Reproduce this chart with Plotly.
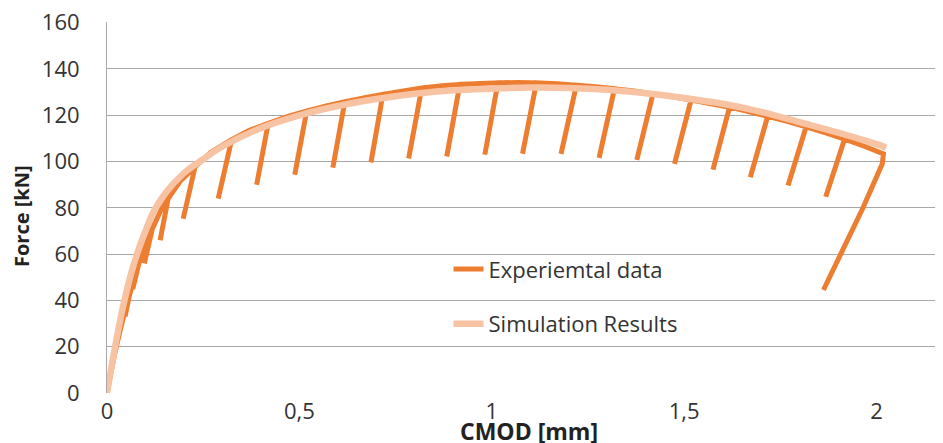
import plotly.graph_objects as go

# Experimental data (envelope with unloading/reloading cycles)
exp_cmod = [0.0, 0.02, 0.04, 0.058, 0.047, 0.058, 0.075, 0.083, 0.067, 0.083,
            0.10, 0.118, 0.097, 0.118, 0.14, 0.159, 0.138, 0.159, 0.19, 0.229,
            0.198, 0.229, 0.27, 0.324, 0.289, 0.324, 0.37, 0.419, 0.389, 0.419,
            0.47, 0.519, 0.488, 0.519, 0.57, 0.618, 0.587, 0.618, 0.67, 0.717,
            0.686, 0.717, 0.77, 0.818, 0.784, 0.818, 0.87, 0.917, 0.883, 0.917,
            0.97, 1.016, 0.982, 1.016, 1.07, 1.116, 1.08, 1.116, 1.17, 1.22,
            1.18, 1.22, 1.27, 1.319, 1.279, 1.319, 1.37, 1.419, 1.377, 1.419,
            1.47, 1.518, 1.475, 1.518, 1.57, 1.618, 1.575, 1.618, 1.67, 1.717,
            1.672, 1.717, 1.77, 1.817, 1.77, 1.817, 1.87, 1.917, 1.868, 1.917,
            1.97, 2.018, 2.015, 1.964, 1.862]
exp_force = [0.0, 17, 31, 42, 33, 42, 52, 56, 45, 56,
             64, 71, 56, 71, 79, 84, 66, 84, 91.5, 97.8,
             75.3, 97.8, 104, 109.5, 84, 109.5, 113.5, 116.5, 90, 116.5,
             119.5, 121.8, 94.3, 121.8, 124, 125.8, 97.4, 125.8, 127.6, 129,
             99.6, 129, 130.5, 131.8, 101.3, 131.8, 132.8, 133.3, 102.2, 133.3,
             133.7, 134, 103, 134, 134.2, 134, 103.4, 134, 133.6, 133,
             103.3, 133, 132.3, 131.5, 101.6, 131.5, 130.5, 129.3, 100.7, 129.3,
             128, 126.6, 99, 126.6, 125, 123.5, 96.5, 123.5, 121.5, 119.5,
             93.2, 119.5, 117.3, 115, 89.7, 115, 112.3, 109.7, 84.8, 109.7,
             106.5, 103.3, 99, 79.7, 44.5]

# Simulation results
sim_cmod = [0.0, 0.02, 0.04, 0.06, 0.08, 0.10, 0.12, 0.15, 0.20, 0.25, 0.30,
            0.40, 0.50, 0.60, 0.70, 0.80, 0.90, 1.00, 1.10, 1.20, 1.30, 1.40,
            1.50, 1.60, 1.70, 1.80, 1.90, 2.00, 2.025]
sim_force = [0.0, 19, 36, 50, 61, 70, 78, 86, 95, 101, 106.5,
             114.5, 120, 124, 127, 129.3, 130.8, 131.5, 132, 131.8, 131, 129.5,
             127.5, 125, 121.5, 117, 112.5, 107.5, 106]

x_ticks = [0, 0.5, 1, 1.5, 2]
x_tick_labels = ["0", "0,5", "1", "1,5", "2"]
y_ticks = [0, 20, 40, 60, 80, 100, 120, 140, 160]

font_family = "Open Sans, Lato, sans-serif"

fig = go.Figure()
fig.add_trace(go.Scatter(
    x=exp_cmod, y=exp_force, mode="lines", name="Experiemtal data",
    line=dict(color="#ED7D31", width=5), legendgroup="a",
))
fig.add_trace(go.Scatter(
    x=sim_cmod, y=sim_force, mode="lines", name="Simulation Results",
    line=dict(color="#F8C3A3", width=6.5, shape="spline"), legendgroup="b",
))

# the page body adds an 8px offset, so margins are reduced to compensate
fig.update_layout(
    width=943, height=443,
    margin=dict(l=99, r=11, t=14, b=58),
    paper_bgcolor="white", plot_bgcolor="white",
    font=dict(family=font_family, size=22, color="#333333"),
    showlegend=True,
    legend=dict(
        x=0.41, y=0.39, xanchor="left", yanchor="top",
        bgcolor="rgba(0,0,0,0)", font=dict(size=22, color="#333333"),
        tracegroupgap=23,
    ),
    xaxis=dict(
        range=[0, 2.165], tickvals=x_ticks, ticktext=x_tick_labels,
        showgrid=False, zeroline=False, showline=False,
        ticks="", ticklabelstandoff=3, automargin=False,
        ticklabeloverflow="allow",
    ),
    yaxis=dict(
        range=[0, 160.3], tickvals=y_ticks,
        showgrid=True, gridcolor="#A8A8A8", gridwidth=1,
        zeroline=False, showline=True, linecolor="#A8A8A8", linewidth=1,
        ticks="", ticklabelstandoff=22, automargin=False,
        ticklabeloverflow="allow",
    ),
    annotations=[
        dict(
            text="<b>CMOD [mm]</b>", xref="paper", yref="paper",
            x=(528.5 - 107) / 833, y=0, yshift=-38, xanchor="center", yanchor="middle",
            showarrow=False, font=dict(size=23, color="#222222"),
        ),
        dict(
            text="<b>Force [kN]</b>", xref="paper", yref="paper",
            x=0, xshift=-86, y=(393 - 216) / 371, xanchor="center", yanchor="middle",
            textangle=-90, showarrow=False, font=dict(size=20, color="#222222"),
        ),
    ],
)

fig.write_html("out.html")
